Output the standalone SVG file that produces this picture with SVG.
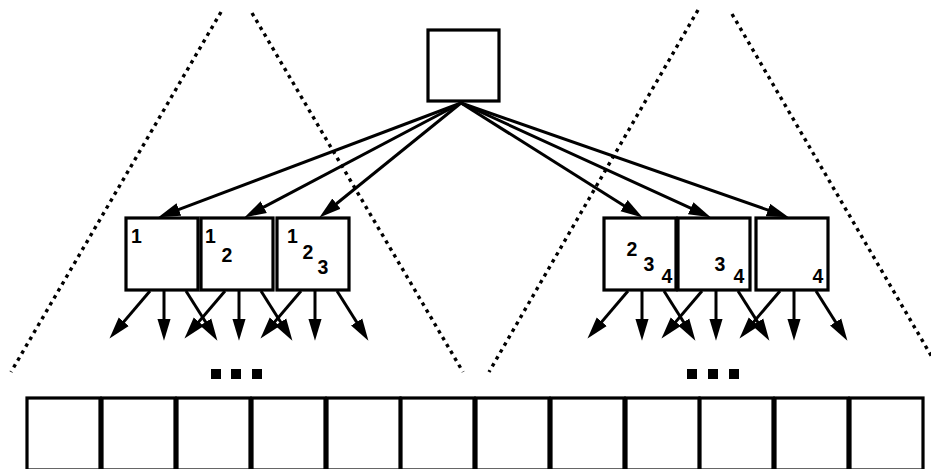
<svg xmlns="http://www.w3.org/2000/svg" width="931" height="469" viewBox="0 0 931 469">
<style>
.box{fill:#fff;stroke:#000;stroke-width:3.2}
.dot{fill:none;stroke:#000;stroke-width:3.4;stroke-dasharray:3.5 4.5}
.arr{fill:none;stroke:#000;stroke-width:3;marker-end:url(#ah)}
.num{font-family:"Liberation Sans",Arial,sans-serif;font-weight:bold;font-size:19.5px;text-anchor:middle;fill:#000}
.sq{fill:#000}
</style>
<defs>
<marker id="ah" markerUnits="userSpaceOnUse" markerWidth="22" markerHeight="14" viewBox="0 0 20 12" refX="12" refY="6" orient="auto">
<path d="M0,0 L20,6 L0,12 z" fill="#000"/>
</marker>
</defs>
<rect width="931" height="469" fill="#fff"/>
<g id="cones">
<line class="dot" x1="221" y1="12" x2="11" y2="372"/>
<line class="dot" x1="252" y1="13" x2="463" y2="372"/>
<line class="dot" x1="698" y1="10" x2="489" y2="372"/>
<line class="dot" x1="732" y1="14" x2="950" y2="388"/>
</g>
<g id="root"><rect class="box" x="428" y="30" width="71" height="71"/></g>
<g id="L1"><rect class="box" x="126" y="218" width="72" height="72"/><text class="num" x="136.5" y="243">1</text></g>
<g id="L2"><rect class="box" x="201" y="218" width="72" height="72"/><text class="num" x="210.5" y="243">1</text><text class="num" x="227" y="262">2</text></g>
<g id="L3"><rect class="box" x="277" y="218" width="72" height="72"/><text class="num" x="292.5" y="243">1</text><text class="num" x="308" y="259">2</text><text class="num" x="323" y="274">3</text></g>
<g id="R1"><rect class="box" x="604" y="218" width="72" height="72"/><text class="num" x="632" y="256">2</text><text class="num" x="649" y="271">3</text><text class="num" x="667" y="283">4</text></g>
<g id="R2"><rect class="box" x="678" y="218" width="72" height="72"/><text class="num" x="720" y="271">3</text><text class="num" x="739" y="283">4</text></g>
<g id="R3"><rect class="box" x="756" y="218" width="72" height="72"/><text class="num" x="818" y="283">4</text></g>
<g id="ellipsis-left"><rect class="sq" x="211" y="369" width="10" height="10"/><rect class="sq" x="231" y="369" width="10" height="10"/><rect class="sq" x="252" y="369" width="10" height="10"/></g>
<g id="ellipsis-right"><rect class="sq" x="687" y="369" width="10" height="10"/><rect class="sq" x="708" y="369" width="10" height="10"/><rect class="sq" x="729" y="369" width="10" height="10"/></g>
<g id="leaves">
<rect class="box" x="27" y="398" width="73" height="72"/>
<rect class="box" x="102" y="398" width="73" height="72"/>
<rect class="box" x="177" y="398" width="73" height="72"/>
<rect class="box" x="252" y="398" width="73" height="72"/>
<rect class="box" x="327" y="398" width="73" height="72"/>
<rect class="box" x="401" y="398" width="73" height="72"/>
<rect class="box" x="476" y="398" width="73" height="72"/>
<rect class="box" x="551" y="398" width="73" height="72"/>
<rect class="box" x="626" y="398" width="73" height="72"/>
<rect class="box" x="700" y="398" width="73" height="72"/>
<rect class="box" x="775" y="398" width="73" height="72"/>
<rect class="box" x="850" y="398" width="73" height="72"/>
</g>
<g id="connectors">
<line class="arr" x1="461" y1="103" x2="166.5" y2="214.2"/>
<line class="arr" x1="461" y1="103" x2="252.1" y2="213.3"/>
<line class="arr" x1="461" y1="103" x2="326.2" y2="212"/>
<line class="arr" x1="461" y1="103" x2="635.2" y2="212.7"/>
<line class="arr" x1="461" y1="103" x2="702.7" y2="213.7"/>
<line class="arr" x1="461" y1="103" x2="780.4" y2="214.4"/>
<line class="arr" x1="150" y1="291" x2="115.2" y2="331.9"/>
<line class="arr" x1="164" y1="291" x2="164" y2="332"/>
<line class="arr" x1="186" y1="291" x2="212.7" y2="333.2"/>
<line class="arr" x1="225" y1="291" x2="190.2" y2="331.9"/>
<line class="arr" x1="239" y1="291" x2="239" y2="332"/>
<line class="arr" x1="261" y1="291" x2="287.7" y2="333.2"/>
<line class="arr" x1="301" y1="291" x2="266.2" y2="331.9"/>
<line class="arr" x1="315" y1="291" x2="315" y2="332"/>
<line class="arr" x1="337" y1="291" x2="363.7" y2="333.2"/>
<line class="arr" x1="628" y1="291" x2="593.2" y2="331.9"/>
<line class="arr" x1="642" y1="291" x2="642" y2="332"/>
<line class="arr" x1="664" y1="291" x2="690.7" y2="333.2"/>
<line class="arr" x1="702" y1="291" x2="667.2" y2="331.9"/>
<line class="arr" x1="716" y1="291" x2="716" y2="332"/>
<line class="arr" x1="738" y1="291" x2="764.7" y2="333.2"/>
<line class="arr" x1="780" y1="291" x2="745.2" y2="331.9"/>
<line class="arr" x1="794" y1="291" x2="794" y2="332"/>
<line class="arr" x1="816" y1="291" x2="842.7" y2="333.2"/>
</g>
</svg>
